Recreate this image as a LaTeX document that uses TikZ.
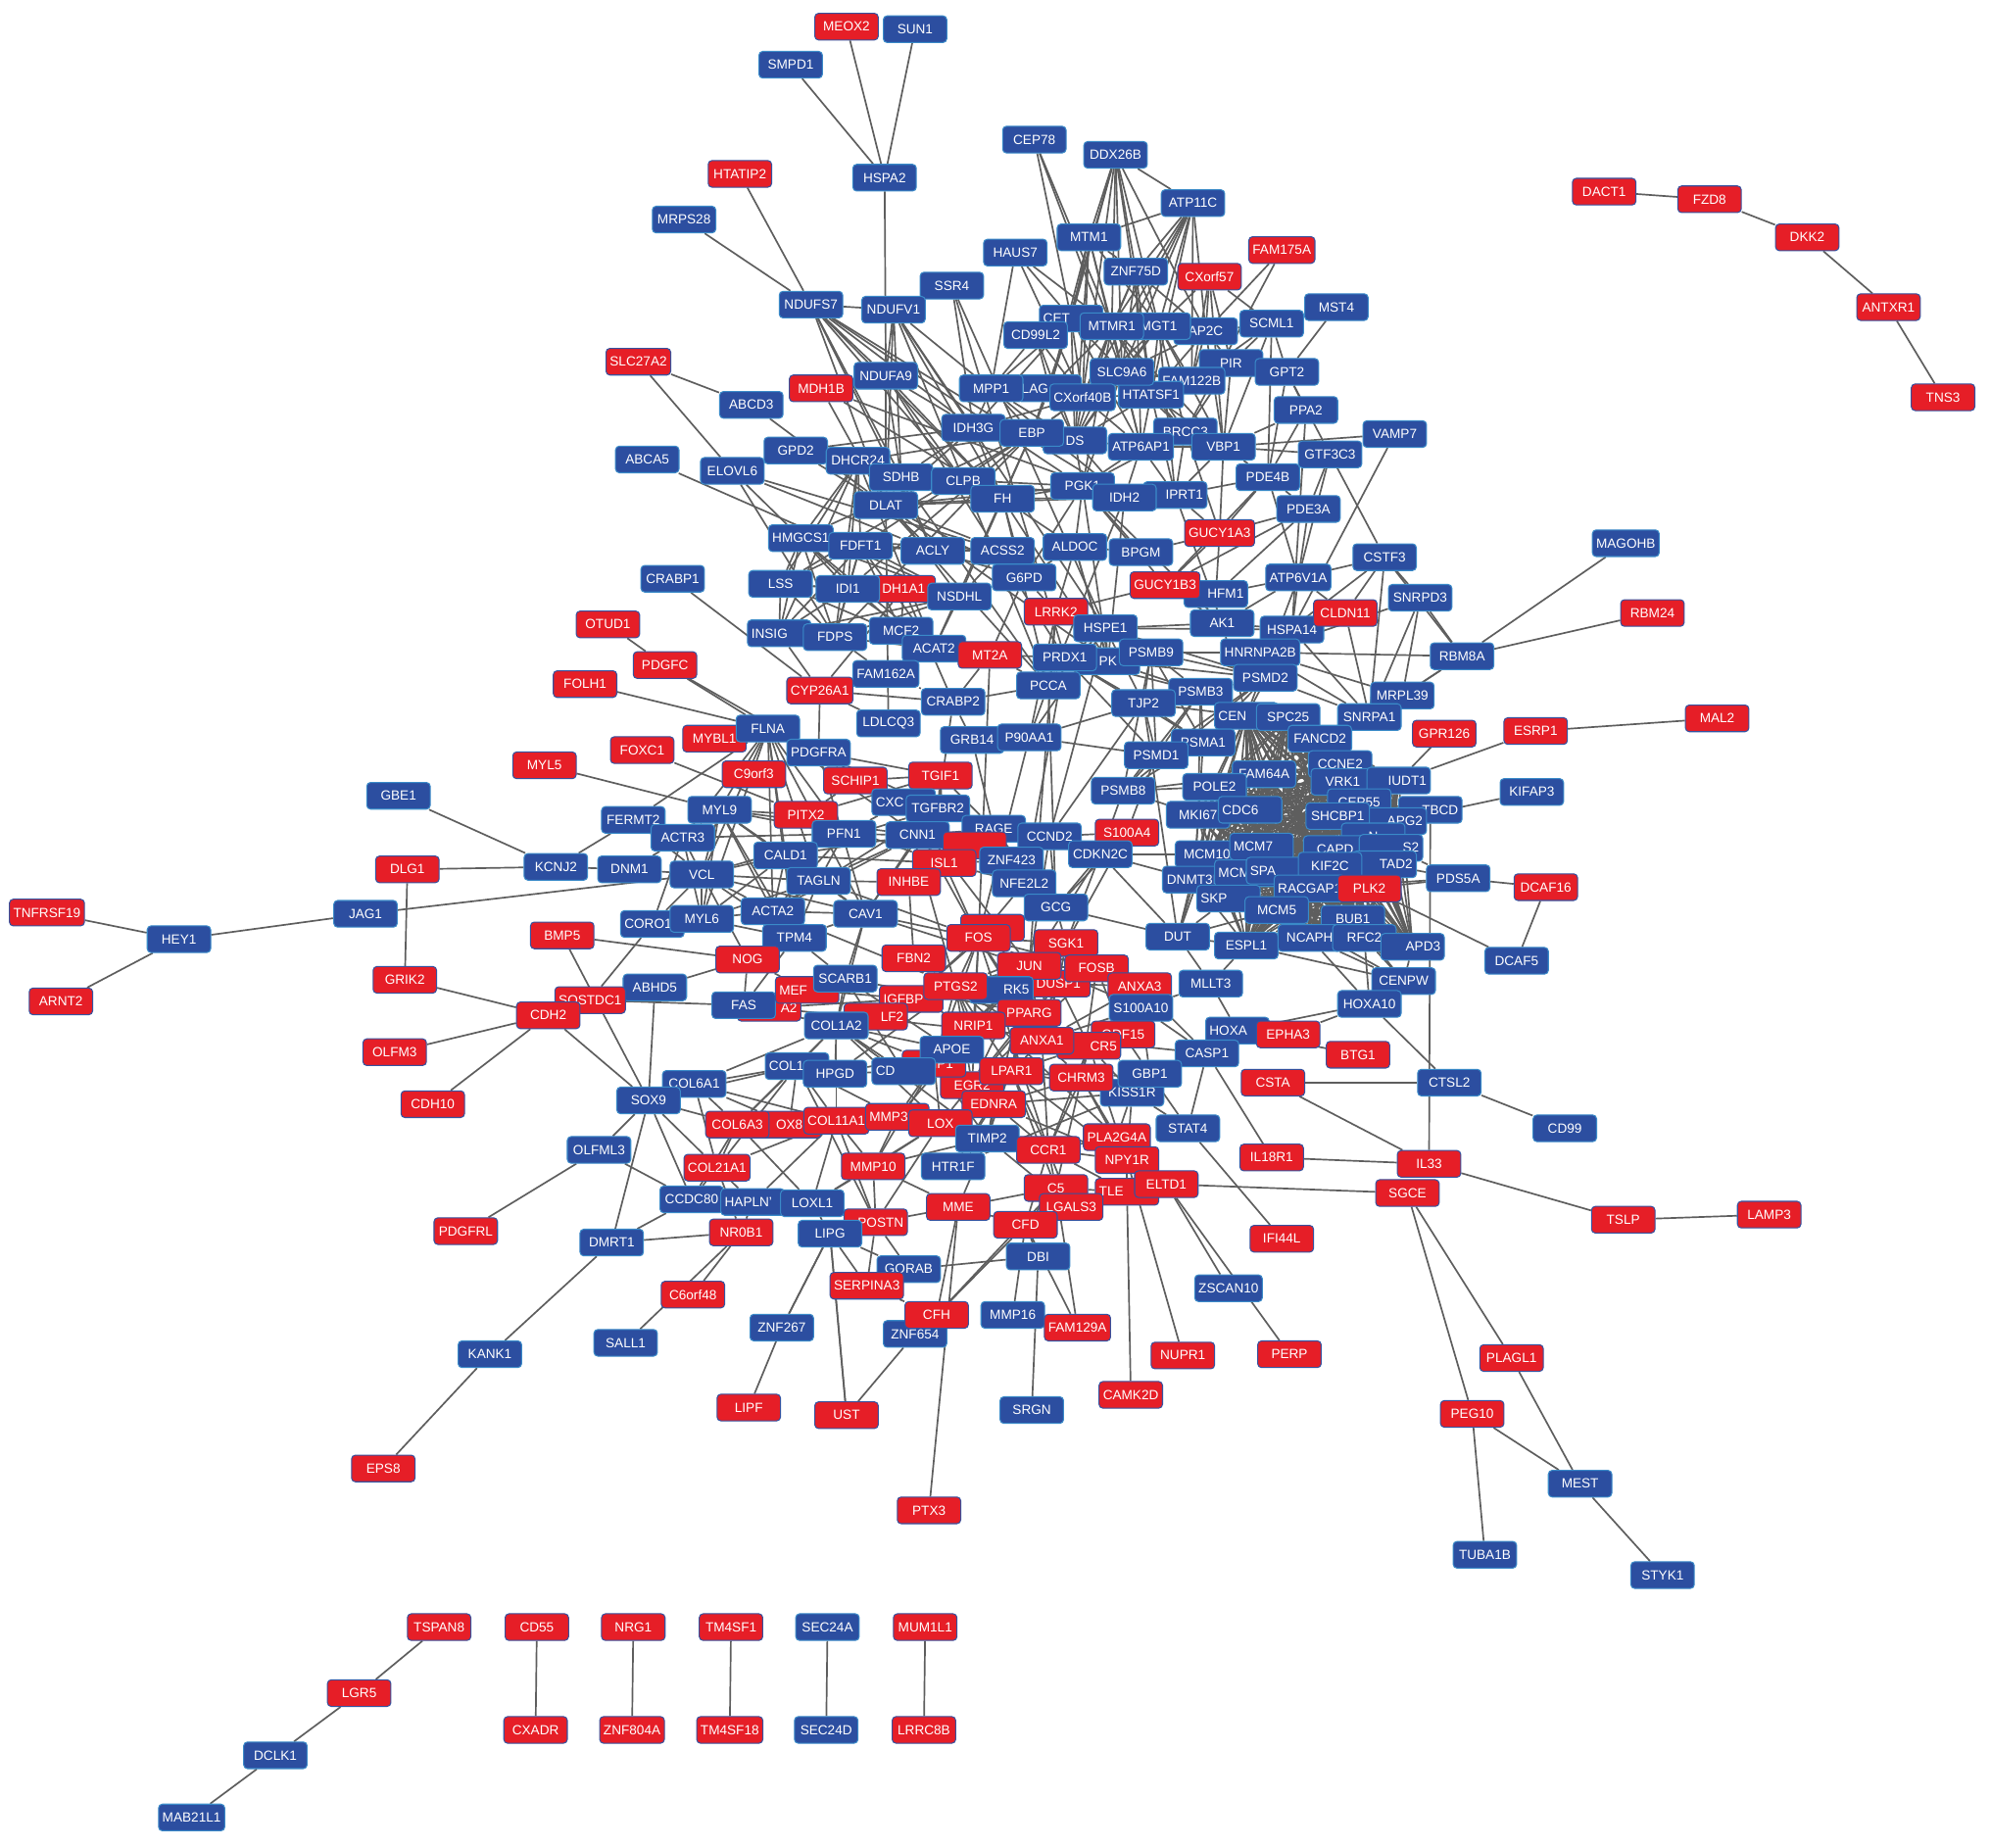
\documentclass[tikz,border=0pt]{standalone}
\usepackage{fontspec}
\setmainfont{Liberation Sans}
\usetikzlibrary{backgrounds}
\definecolor{bfill}{HTML}{2C4EA0}
\definecolor{bline}{HTML}{3A8AC8}
\definecolor{rfill}{HTML}{E61E27}
\definecolor{rline}{HTML}{3553A0}
\definecolor{egray}{HTML}{5E5E5E}
\tikzset{
 nd/.style={rectangle, rounded corners=3pt, minimum width=50pt, minimum height=21pt, inner xsep=3pt, inner ysep=1pt, text=white, font=\fontsize{10.5}{11}\selectfont, line width=0.8pt},
 nb/.style={nd, fill=bfill, draw=bline},
 nr/.style={nd, fill=rfill, draw=rline},
 tl/.style={text width=44pt, align=left},
 tr/.style={text width=44pt, align=right},
 ed/.style={draw=egray, line width=1.3pt},
}
\begin{document}
\begin{tikzpicture}[x=1pt,y=-1pt]
\useasboundingbox (0,0) rectangle (1568,1456);
% ---- top
\node[nr] (MEOX2) at (667,21) {MEOX2};
\node[nb] (SUN1) at (721,23) {SUN1};
\node[nb] (SMPD1) at (623,51) {SMPD1};
\node[nb] (HSPA2) at (697,140) {HSPA2};
\node[nr] (HTATIP2) at (583,137) {HTATIP2};
\node[nb] (MRPS28) at (539,173) {MRPS28};
\node[nb] (CEP78) at (815,110) {CEP78};
\node[nb] (DDX26B) at (879,122) {DDX26B};
\node[nb] (ATP11C) at (940,160) {ATP11C};
\node[nb] (MTM1) at (858,187) {MTM1};
\node[nb] (HAUS7) at (800,199) {HAUS7};
\node[nb] (ZNF75D) at (895,214) {ZNF75D};
\node[nr] (CXorf57) at (953,218) {CXorf57};
\node[nr] (FAM175A) at (1010,197) {FAM175A};
\node[nb] (SSR4) at (750,225) {SSR4};
\node[nb] (NDUFS7) at (639,240) {NDUFS7};
\node[nb] (NDUFV1) at (704,244) {NDUFV1};
\node[nb] (MST4) at (1053,242) {MST4};
\node[nb,tl] (CET) at (844,251) {CET};
\node[nb] (CD99L2) at (816,264) {CD99L2};
\node[nb] (AP2C) at (950,261) {AP2C};
\node[nb] (MGT1) at (913,257) {MGT1};
\node[nb] (MTMR1) at (876,257) {MTMR1};
\node[nb] (SCML1) at (1002,255) {SCML1};
\node[nb] (PIR) at (970,286) {PIR};
\node[nb] (GPT2) at (1014,293) {GPT2};
\node[nb] (FAM122B) at (939,300) {FAM122B};
\node[nb] (HTATSF1) at (907,311) {HTATSF1};
\node[nb] (SLC9A6) at (884,293) {SLC9A6};
\node[nb,tl] (LAG) at (827,306) {LAG};
\node[nb] (MPP1) at (781,306) {MPP1};
\node[nb] (CXorf40B) at (853,313) {CXorf40B};
\node[nr] (SLC27A2) at (503,285) {SLC27A2};
\node[nr] (MDH1B) at (647,306) {MDH1B};
\node[nb] (NDUFA9) at (698,296) {NDUFA9};
\node[nb] (ABCD3) at (592,319) {ABCD3};
\node[nb] (PPA2) at (1029,323) {PPA2};
\node[nb] (VAMP7) at (1099,342) {VAMP7};
\node[nb] (ABCA5) at (510,362) {ABCA5};
\node[nb] (GPD2) at (627,355) {GPD2};
\node[nb] (DHCR24) at (676,363) {DHCR24};
\node[nb] (ELOVL6) at (577,371) {ELOVL6};
\node[nb] (DS) at (847,347) {DS};
\node[nb] (IDH3G) at (767,337) {IDH3G};
\node[nb] (EBP) at (813,341) {EBP};
\node[nb] (BRCC3) at (934,340) {BRCC3};
\node[nb] (ATP6AP1) at (899,352) {ATP6AP1};
\node[nb] (VBP1) at (964,352) {VBP1};
\node[nb] (GTF3C3) at (1048,358) {GTF3C3};
\node[nb] (SDHB) at (710,376) {SDHB};
\node[nb] (CLPB) at (759,379) {CLPB};
\node[nb] (FH) at (790,393) {FH};
\node[nb] (PGK1) at (853,383) {PGK1};
\node[nb,tr] (IPRT1) at (926,390) {IPRT1};
\node[nb] (IDH2) at (886,392) {IDH2};
\node[nb] (PDE4B) at (999,376) {PDE4B};
\node[nb] (DLAT) at (698,398) {DLAT};
\node[nb] (PDE3A) at (1031,401) {PDE3A};
\node[nb] (HMGCS1) at (631,424) {HMGCS1};
\node[nb] (FDFT1) at (678,430) {FDFT1};
\node[nb] (ACLY) at (735,434) {ACLY};
\node[nb] (ACSS2) at (790,434) {ACSS2};
\node[nb] (ALDOC) at (847,431) {ALDOC};
\node[nb] (BPGM) at (899,435) {BPGM};
\node[nr] (GUCY1A3) at (961,420) {GUCY1A3};
\node[nb] (CSTF3) at (1091,439) {CSTF3};
\node[nb] (MAGOHB) at (1281,428) {MAGOHB};
\node[nb] (ATP6V1A) at (1023,455) {ATP6V1A};
\node[nb] (LSS) at (615,460) {LSS};
\node[nr] (DH1A1) at (712,464) {DH1A1};
\node[nb] (IDI1) at (668,464) {IDI1};
\node[nb] (NSDHL) at (756,470) {NSDHL};
\node[nb] (G6PD) at (807,455) {G6PD};
\node[nb,tr] (HFM1) at (958,468) {HFM1};
\node[nr] (GUCY1B3) at (918,461) {GUCY1B3};
\node[nb] (SNRPD3) at (1119,471) {SNRPD3};
\node[nb] (HSPA14) at (1018,496) {HSPA14};
\node[nr] (CLDN11) at (1060,483) {CLDN11};
\node[nr] (RBM24) at (1302,483) {RBM24};
\node[nr] (LRRK2) at (832,482) {LRRK2};
\node[nb] (AK1) at (963,491) {AK1};
\node[nb] (CRABP1) at (530,456) {CRABP1};
\node[nr] (OTUD1) at (479,492) {OTUD1};
\node[nr] (PDGFC) at (524,524) {PDGFC};
\node[nb,tl] (INSIG) at (614,499) {INSIG};
\node[nb] (FDPS) at (658,502) {FDPS};
\node[nb] (MCF2) at (710,497) {MCF2};
\node[nb] (HSPE1) at (871,495) {HSPE1};
\node[nb] (ACAT2) at (736,511) {ACAT2};
\node[nr] (MT2A) at (780,516) {MT2A};
\node[nb] (PK) at (873,521) {PK};
\node[nb] (PRDX1) at (839,518) {PRDX1};
\node[nb] (PSMB9) at (907,514) {PSMB9};
\node[nb] (HNRNPA2B) at (993,514) {HNRNPA2B};
\node[nb] (RBM8A) at (1152,517) {RBM8A};
\node[nr] (FOLH1) at (461,539) {FOLH1};
\node[nb] (FAM162A) at (698,531) {FAM162A};
\node[nr] (CYP26A1) at (646,544) {CYP26A1};
\node[nb] (PCCA) at (826,540) {PCCA};
\node[nb] (PSMD2) at (997,534) {PSMD2};
\node[nb] (PSMB3) at (946,545) {PSMB3};
\node[nb] (TJP2) at (901,554) {TJP2};
\node[nb] (MRPL39) at (1105,548) {MRPL39};
\node[nb] (CRABP2) at (751,553) {CRABP2};
\node[nb] (LDLCQ3) at (700,570) {LDLCQ3};
\node[nb,tl] (CEN) at (982,564) {CEN};
\node[nb] (SPC25) at (1015,565) {SPC25};
\node[nb] (SNRPA1) at (1079,565) {SNRPA1};
\node[nr] (MYBL1) at (563,582) {MYBL1};
\node[nb] (FLNA) at (605,574) {FLNA};
\node[nb] (PDGFRA) at (645,593) {PDGFRA};
\node[nr] (FOXC1) at (506,591) {FOXC1};
\node[nb] (GRB14) at (766,583) {GRB14};
\node[nb] (P90AA1) at (811,581) {P90AA1};
\node[nr] (GPR126) at (1138,578) {GPR126};
\node[nr] (ESRP1) at (1210,576) {ESRP1};
\node[nr] (MAL2) at (1353,566) {MAL2};
\node[nr] (MYL5) at (429,603) {MYL5};
\node[nr] (C9orf3) at (594,610) {C9orf3};
\node[nr] (SCHIP1) at (674,615) {SCHIP1};
\node[nr] (TGIF1) at (741,611) {TGIF1};
\node[nb] (PSMA1) at (948,585) {PSMA1};
\node[nb] (FANCD2) at (1040,582) {FANCD2};
\node[nb] (PSMD1) at (911,595) {PSMD1};
\node[nb] (FAM64A) at (996,610) {FAM64A};
\node[nb] (CCNE2) at (1056,602) {CCNE2};
\node[nb] (VRK1) at (1058,616) {VRK1};
\node[nb,tr] (IUDT1) at (1102,615) {IUDT1};
\node[nb] (GBE1) at (314,627) {GBE1};
\node[nb] (PSMB8) at (885,623) {PSMB8};
\node[nb] (POLE2) at (957,620) {POLE2};
\node[nb,tl] (CXC) at (712,632) {CXC};
\node[nb] (CEP55) at (1071,632) {CEP55};
\node[nb] (KIFAP3) at (1207,624) {KIFAP3};
\node[nb,tr] (TBCD) at (1127,638) {TBCD};
\node[nb] (FERMT2) at (499,646) {FERMT2};
\node[nb] (MYL9) at (567,638) {MYL9};
\node[nr] (PITX2) at (635,642) {PITX2};
\node[nb] (TGFBR2) at (739,637) {TGFBR2};
\node[nb] (MKI67) at (944,642) {MKI67};
\node[nb,tl] (CDC6) at (985,638) {CDC6};
\node[nb,tr] (APG2) at (1099,647) {APG2};
\node[nb] (SHCBP1) at (1054,643) {SHCBP1};
\node[nb] (ACTR3) at (538,660) {ACTR3};
\node[nb] (PFN1) at (665,657) {PFN1};
\node[nb] (CNN1) at (723,658) {CNN1};
\node[nb] (RAGE) at (783,653) {RAGE};
\node[nb] (CCND2) at (827,659) {CCND2};
\node[nr] (S100A4) at (888,656) {S100A4};
\node[nb] (CDKN2C) at (867,673) {CDKN2C};
\node[nb] (MCM10) at (951,673) {MCM10};
\node[nb] (Nn) at (1082,659) {N};
\node[nb] (CAPD) at (1052,669) {CAPD};
\node[nb,tr] (S2) at (1096,668) {S2};
\node[nb,tl] (MCM7) at (994,667) {MCM7};
\node[nr] (DCAF16) at (1218,699) {DCAF16};
\node[nb] (PDS5A) at (1149,692) {PDS5A};
\node[nb] (DCAF5) at (1195,757) {DCAF5};
\node[nr] (DLG1) at (321,685) {DLG1};
\node[nb] (KCNJ2) at (438,683) {KCNJ2};
\node[nb] (DNM1) at (496,685) {DNM1};
\node[nb] (VCL) at (553,689) {VCL};
\node[nb] (CALD1) at (619,674) {CALD1};
\node[nb] (TAGLN) at (645,694) {TAGLN};
\node[nr] (DARP) at (768,666) {};
\node[nr] (ISL1) at (744,680) {ISL1};
\node[nb] (ZNF423) at (797,678) {ZNF423};
\node[nr] (INHBE) at (716,695) {INHBE};
\node[nb] (NFE2L2) at (807,696) {NFE2L2};
\node[nb] (DNMT3B) at (941,693) {DNMT3B};
\node[nb,tl] (MCM) at (982,688) {MCM};
\node[nb,tl] (SPA) at (1007,686) {SPA};
\node[nb,tr] (TAD2) at (1091,681) {TAD2};
\node[nb] (KIF2C) at (1048,682) {KIF2C};
\node[nb] (RACGAP1) at (1032,700) {RACGAP1};
\node[nr] (PLK2) at (1079,700) {PLK2};
\node[nr] (TNFRSF19) at (37,719) {TNFRSF19};
\node[nb] (JAG1) at (288,720) {JAG1};
\node[nb] (HEY1) at (141,740) {HEY1};
\node[nb,tl] (CORO1) at (514,728) {CORO1};
\node[nb] (MYL6) at (553,724) {MYL6};
\node[nb] (ACTA2) at (609,718) {ACTA2};
\node[nb] (CAV1) at (682,720) {CAV1};
\node[nb] (GCG) at (832,715) {GCG};
\node[nb,tl] (SKP) at (968,708) {SKP};
\node[nb] (MCM5) at (1006,717) {MCM5};
\node[nb] (BUB1) at (1066,724) {BUB1};
\node[nr] (BMP5) at (443,737) {BMP5};
\node[nb] (TPM4) at (626,739) {TPM4};
\node[nr] (R2) at (782,731) {};
\node[nr] (FOS) at (771,739) {FOS};
\node[nr] (SGK1) at (840,743) {SGK1};
\node[nb] (DUT) at (928,738) {DUT};
\node[nb] (ESPL1) at (982,745) {ESPL1};
\node[nb] (NCAPH) at (1032,739) {NCAPH};
\node[nb] (RFC2) at (1075,739) {RFC2};
\node[nb,tr] (APD3) at (1113,746) {APD3};
\node[nr] (ARNT2) at (48,789) {ARNT2};
\node[nr] (GRIK2) at (319,772) {GRIK2};
\node[nr] (NOG) at (589,756) {NOG};
\node[nr] (FBN2) at (720,755) {FBN2};
\node[nr] (DUSP1) at (834,775) {DUSP1};
\node[nr] (JUN) at (811,761) {JUN};
\node[nr] (FOSB) at (864,763) {FOSB};
\node[nr] (ANXA3) at (898,777) {ANXA3};
\node[nb] (MLLT3) at (954,775) {MLLT3};
\node[nb] (CENPW) at (1106,773) {CENPW};
\node[nb] (ABHD5) at (516,778) {ABHD5};
\node[nr] (SOSTDC1) at (465,788) {SOSTDC1};
\node[nr,tr] (A2) at (606,794) {A2};
\node[nb] (FAS) at (586,792) {FAS};
\node[nr,tl] (MEF) at (636,780) {MEF};
\node[nb] (SCARB1) at (666,771) {SCARB1};
\node[nb,tr] (RK5) at (789,780) {RK5};
\node[nr,tl] (IGFBP) at (718,787) {IGFBP};
\node[nr] (PTGS2) at (753,777) {PTGS2};
\node[nr] (PPARG) at (811,798) {PPARG};
\node[nb] (S100A10) at (899,794) {S100A10};
\node[nb] (HOXA10) at (1079,791) {HOXA10};
\node[nr] (CDH2) at (432,800) {CDH2};
\node[nr,tr] (LF2) at (690,801) {LF2};
\node[nb] (COL1A2) at (659,808) {COL1A2};
\node[nr] (NRIP1) at (767,808) {NRIP1};
\node[nb,tl] (HOXA) at (975,812) {HOXA};
\node[nr] (EPHA3) at (1015,815) {EPHA3};
\node[nr] (GDF15) at (885,815) {GDF15};
\node[nr] (OLFM3) at (311,829) {OLFM3};
\node[nr] (BTG1) at (1070,831) {BTG1};
\node[nb] (CASP1) at (951,830) {CASP1};
\node[nr,tr] (CR5) at (858,824) {CR5};
\node[nr] (ANXA1) at (821,820) {ANXA1};
\node[nr] (EGR2) at (766,855) {EGR2};
\node[nr] (MMP1) at (736,838) {MMP1};
\node[nb] (APOE) at (750,827) {APOE};
\node[nb,tl] (COL1) at (628,840) {COL1};
\node[nb,tl] (CD) at (712,844) {CD};
\node[nb] (HPGD) at (658,846) {HPGD};
\node[nr] (LPAR1) at (797,844) {LPAR1};
\node[nb] (KISS1R) at (892,861) {KISS1R};
\node[nr] (CHRM3) at (852,849) {CHRM3};
\node[nb] (GBP1) at (906,846) {GBP1};
\node[nr] (CSTA) at (1003,853) {CSTA};
\node[nb] (CTSL2) at (1142,853) {CTSL2};
\node[nr] (CDH10) at (341,870) {CDH10};
\node[nb] (COL6A1) at (547,854) {COL6A1};
\node[nb] (SOX9) at (511,867) {SOX9};
\node[nr] (EDNRA) at (783,870) {EDNRA};
\node[nb] (CD99) at (1233,889) {CD99};
\node[nr] (OX8) at (622,886) {OX8};
\node[nr] (COL6A3) at (581,886) {COL6A3};
\node[nr] (COL11A1) at (659,883) {COL11A1};
\node[nr,tl] (MMP3) at (707,880) {MMP3};
\node[nr] (LOX) at (741,885) {LOX};
\node[nb] (STAT4) at (936,889) {STAT4};
\node[nb] (TIMP2) at (778,897) {TIMP2};
\node[nr] (PLA2G4A) at (880,896) {PLA2G4A};
\node[nr] (CCR1) at (826,906) {CCR1};
\node[nb] (OLFML3) at (472,906) {OLFML3};
\node[nr] (NPY1R) at (888,914) {NPY1R};
\node[nr] (IL18R1) at (1002,912) {IL18R1};
\node[nr] (IL33) at (1126,917) {IL33};
\node[nr] (COL21A1) at (565,920) {COL21A1};
\node[nr] (MMP10) at (688,919) {MMP10};
\node[nb] (HTR1F) at (751,919) {HTR1F};
\node[nr,tl] (TLE) at (888,939) {TLE};
\node[nr] (ELTD1) at (919,933) {ELTD1};
\node[nr] (C5) at (832,936) {C5};
\node[nb] (CCDC80) at (545,945) {CCDC80};
\node[nb,tl] (HAPLN) at (593,947) {HAPLN'};
\node[nb] (LOXL1) at (640,948) {LOXL1};
\node[nr] (SGCE) at (1109,940) {SGCE};
\node[nr] (MME) at (755,951) {MME};
\node[nr] (LGALS3) at (844,951) {LGALS3};
\node[nr,tr] (POSTN) at (690,963) {POSTN};
\node[nr] (CFD) at (808,965) {CFD};
\node[nr] (PDGFRL) at (367,970) {PDGFRL};
\node[nr] (NR0B1) at (584,971) {NR0B1};
\node[nb] (LIPG) at (654,972) {LIPG};
\node[nr] (IFI44L) at (1010,976) {IFI44L};
\node[nr] (TSLP) at (1279,961) {TSLP};
\node[nr] (LAMP3) at (1394,957) {LAMP3};
\node[nb] (DMRT1) at (482,979) {DMRT1};
\node[nb] (DBI) at (818,990) {DBI};
\node[nb] (GORAB) at (716,1000) {GORAB};
\node[nr] (SERPINA3) at (683,1013) {SERPINA3};
\node[nr] (C6orf48) at (546,1020) {C6orf48};
\node[nb] (ZSCAN10) at (968,1015) {ZSCAN10};
\node[nb] (ZNF654) at (721,1051) {ZNF654};
\node[nr] (CFH) at (738,1036) {CFH};
\node[nb] (MMP16) at (798,1036) {MMP16};
\node[nr] (FAM129A) at (849,1046) {FAM129A};
\node[nb] (ZNF267) at (616,1046) {ZNF267};
\node[nb] (SALL1) at (493,1058) {SALL1};
\node[nb] (KANK1) at (386,1067) {KANK1};
\node[nr] (NUPR1) at (932,1068) {NUPR1};
\node[nr] (PERP) at (1016,1067) {PERP};
\node[nr] (PLAGL1) at (1191,1070) {PLAGL1};
\node[nr] (CAMK2D) at (891,1099) {CAMK2D};
\node[nr] (LIPF) at (590,1109) {LIPF};
\node[nb] (SRGN) at (813,1111) {SRGN};
\node[nr] (UST) at (667,1115) {UST};
\node[nr] (PEG10) at (1160,1114) {PEG10};
\node[nr] (EPS8) at (302,1157) {EPS8};
\node[nb] (MEST) at (1245,1169) {MEST};
\node[nr] (PTX3) at (732,1190) {PTX3};
\node[nb] (TUBA1B) at (1170,1225) {TUBA1B};
\node[nb] (STYK1) at (1310,1241) {STYK1};
\node[nr] (DACT1) at (1264,151) {DACT1};
\node[nr] (FZD8) at (1347,157) {FZD8};
\node[nr] (DKK2) at (1424,187) {DKK2};
\node[nr] (ANTXR1) at (1488,242) {ANTXR1};
\node[nr] (TNS3) at (1531,313) {TNS3};
\node[nr] (TSPAN8) at (346,1282) {TSPAN8};
\node[nr] (LGR5) at (283,1334) {LGR5};
\node[nb] (DCLK1) at (217,1383) {DCLK1};
\node[nb] (MAB21L1) at (151,1432) {MAB21L1};
\node[nr] (CD55) at (423,1282) {CD55};
\node[nr] (CXADR) at (422,1363) {CXADR};
\node[nr] (NRG1) at (499,1282) {NRG1};
\node[nr] (ZNF804A) at (498,1363) {ZNF804A};
\node[nr] (TM4SF1) at (576,1282) {TM4SF1};
\node[nr] (TM4SF18) at (575,1363) {TM4SF18};
\node[nb] (SEC24A) at (652,1282) {SEC24A};
\node[nb] (SEC24D) at (651,1363) {SEC24D};
\node[nr] (MUM1L1) at (729,1282) {MUM1L1};
\node[nr] (LRRC8B) at (728,1363) {LRRC8B};

\begin{pgfonlayer}{background}
\fill[white] (0,0) rectangle (1568,1456);
% simple edges
\foreach \a/\b in {DACT1/FZD8, FZD8/DKK2, DKK2/ANTXR1, ANTXR1/TNS3, TSPAN8/LGR5, LGR5/DCLK1, DCLK1/MAB21L1, CD55/CXADR, NRG1/ZNF804A, TM4SF1/TM4SF18, SEC24A/SEC24D, MUM1L1/LRRC8B,
 MEOX2/HSPA2, SUN1/HSPA2, SMPD1/HSPA2, HSPA2/NDUFA9, HTATIP2/NDUFS7, MRPS28/NDUFS7,
 SLC27A2/ABCD3, SLC27A2/ELOVL6, ABCD3/DLAT, MDH1B/DLAT, ABCA5/NSDHL,
 CRABP1/CYP26A1, OTUD1/PDGFC, PDGFC/FLNA, PDGFC/PDGFRA, FOLH1/FLNA, MYL5/MYL9, FOXC1/PITX2, MYBL1/FLNA,
 GBE1/KCNJ2, DLG1/KCNJ2, DLG1/GRIK2, FERMT2/KCNJ2, KCNJ2/DNM1,
 TNFRSF19/HEY1, ARNT2/HEY1, HEY1/JAG1, JAG1/VCL,
 BMP5/NOG, BMP5/SOX9, GRIK2/CDH2, OLFM3/CDH2, CDH10/CDH2, CDH2/SOX9, SOSTDC1/FAS, SOSTDC1/CORO1, ABHD5/NOG,
 PDGFRL/OLFML3, OLFML3/SOX9, OLFML3/CCDC80, KANK1/DMRT1, KANK1/EPS8, DMRT1/SOX9, DMRT1/NR0B1, DMRT1/CCDC80,
 SALL1/NR0B1, C6orf48/NR0B1, ZNF267/LIPG, LIPF/ZNF267, UST/LIPG, PTX3/MME, CAMK2D/TLE, NUPR1/NPY1R, PERP/ELTD1, ZSCAN10/ELTD1, IFI44L/STAT4,
 IL18R1/CASP1, IL18R1/IL33, CSTA/IL33, CSTA/CTSL2, CTSL2/CD99, CTSL2/HOXA10, IL33/TBCD, IL33/TSLP, TSLP/LAMP3,
 SGCE/ELTD1, SGCE/PEG10, SGCE/PLAGL1, PLAGL1/MEST, PEG10/MEST, PEG10/TUBA1B, MEST/STYK1,
 KIFAP3/APG2, PDS5A/DCAF16, DCAF16/DCAF5, PDS5A/PLK2, DCAF5/PLK2, PDS5A/TAD2, MAGOHB/RBM8A, RBM24/RBM8A, MAL2/ESRP1, ESRP1/IUDT1, GPR126/IUDT1,
 VAMP7/VBP1, VAMP7/HSPA14, GTF3C3/CSTF3, PPA2/HSPA14, MST4/GPT2, FAM175A/AP2C, CEP78/MTMR1, BTG1/HOXA, EPHA3/HOXA10,
 ZNF654/UST, FAM129A/CFD, MMP16/CFD, CFH/CFD}
 {\draw[ed] (\a) -- (\b);}
% hub edges
\foreach \a/\L in {
 NDUFS7/{NDUFV1,NDUFA9,SDHB,DLAT,IDH3G,FH,IDH2,PGK1,CLPB,ACLY},
 NDUFV1/{NDUFA9,SDHB,DLAT,FH,IDH3G,PCCA,HSPE1,IDH2},
 NDUFA9/{SDHB,DLAT,FH,IDH3G,PRDX1,CLPB},
 SDHB/{DLAT,FH,IDH3G,IDH2,PGK1,ACLY,PCCA},
 DLAT/{FH,IDH3G,IDH2,PGK1,ACLY,ACSS2,PCCA,G6PD,PK,LDLCQ3},
 FH/{IDH3G,IDH2,PGK1,ALDOC,G6PD,PK,PCCA},
 PGK1/{ALDOC,BPGM,PK,G6PD,IDH2,AK1,GUCY1B3},
 ALDOC/{BPGM,PK,G6PD},
 ACLY/{ACSS2,G6PD,FDFT1,HMGCS1},
 IDH2/{PCCA,PK},
 MDH1B/{FH,IDH2},
 SSR4/{IDH3G,HSPE1,PRDX1},
 HMGCS1/{FDFT1,LSS,IDI1,INSIG,FDPS,DHCR24,NSDHL,ACAT2,EBP,ACSS2,ELOVL6,MCF2},
 FDFT1/{LSS,IDI1,INSIG,FDPS,DHCR24,NSDHL,ACAT2,EBP,MCF2},
 LSS/{IDI1,INSIG,FDPS,DHCR24,NSDHL,EBP,ACAT2},
 IDI1/{INSIG,FDPS,DHCR24,NSDHL,ACAT2,EBP},
 INSIG/{FDPS,DHCR24,CYP26A1,NSDHL},
 FDPS/{DHCR24,NSDHL,ACAT2,EBP,FAM162A},
 DHCR24/{NSDHL,EBP,GPD2,ACAT2,SDHB},
 NSDHL/{EBP,ACAT2,ACSS2,G6PD},
 EBP/{ACAT2,DS,CXorf40B},
 ELOVL6/{ACLY,ACSS2,FDPS},
 GPD2/{DLAT,IDH3G},
 CYP26A1/{CRABP2,DH1A1,FAM162A,LDLCQ3,PDGFRA},
 DH1A1/{CRABP2,MCF2},
 DDX26B/{MTM1,ATP11C,ZNF75D,MTMR1,CET,MGT1,SLC9A6,CXorf40B,LAG,HTATSF1,AP2C},
 ATP11C/{MTM1,ZNF75D,MTMR1,MGT1,SLC9A6,AP2C,FAM122B,DS,CXorf40B,HTATSF1},
 MTM1/{ZNF75D,MTMR1,CET,MGT1,SLC9A6,CXorf40B,LAG,DS},
 CEP78/{CET,SLC9A6},
 HAUS7/{CET,MTMR1,CXorf40B,MPP1},
 ZNF75D/{MTMR1,MGT1,SLC9A6,CXorf40B,HTATSF1,AP2C,ATP6AP1},
 CXorf57/{AP2C,MGT1,FAM122B,SCML1,PIR,VBP1},
 FAM175A/{BRCC3},
 CET/{MTMR1,CD99L2,LAG,SLC9A6,CXorf40B,DS,EBP,ATP6AP1,MPP1,IDH3G},
 CD99L2/{MTMR1,LAG,MPP1,CXorf40B,DS},
 MTMR1/{MGT1,SLC9A6,CXorf40B,HTATSF1,DS,LAG,ATP6AP1,BRCC3,VBP1,PGK1},
 MGT1/{AP2C,SLC9A6,HTATSF1,FAM122B,CXorf40B,DS,BRCC3,VBP1,IPRT1},
 AP2C/{SCML1,PIR,FAM122B,SLC9A6,HTATSF1,VBP1},
 SCML1/{PIR,FAM122B,GPT2,MST4,VBP1,PDE4B},
 PIR/{FAM122B,GPT2,VBP1,BRCC3},
 SLC9A6/{CXorf40B,HTATSF1,FAM122B,DS,ATP6AP1,BRCC3,PGK1},
 CXorf40B/{HTATSF1,DS,ATP6AP1,LAG,MPP1,EBP,IDH3G},
 HTATSF1/{FAM122B,BRCC3,ATP6AP1,VBP1,DS,IPRT1},
 BRCC3/{ATP6AP1,VBP1,IPRT1,PGK1,GUCY1A3},
 ATP6AP1/{VBP1,DS,IPRT1,PGK1,IDH2},
 VBP1/{IPRT1,PPA2,GTF3C3,PDE4B,GUCY1A3},
 LAG/{MPP1,DS,EBP},
 MPP1/{IDH3G,DS,EBP},
 DS/{PGK1,IDH2},
 GPT2/{PPA2,PDE4B,GTF3C3},
 PPA2/{PDE4B},
 PDE4B/{PDE3A,GUCY1A3,GUCY1B3,ATP6V1A},
 PDE3A/{GUCY1A3,GUCY1B3,ATP6V1A,HFM1},
 GTF3C3/{ATP6V1A,PDE3A},
 ATP6V1A/{HSPA14,HFM1,CLDN11,AK1,CEN},
 GUCY1A3/{GUCY1B3,HFM1,BPGM},
 GUCY1B3/{HFM1,AK1,LRRK2},
 IPRT1/{IDH2,PGK1,GUCY1A3,PDE4B,AK1},
 HSPE1/{PRDX1,PK,PSMB9,PCCA,LRRK2,AK1,P90AA1,HSPA14,PSMD2,TJP2,CCND2},
 PRDX1/{PK,PSMB9,PCCA,MT2A,PSMB3,PSMA1,PSMD1,TJP2,NFE2L2},
 PK/{PSMB9,PCCA,PSMB3,PSMD2,ALDOC},
 PSMB9/{PSMB3,PSMD2,PSMA1,PSMD1,PSMB8,HNRNPA2B,TJP2},
 PSMB3/{PSMD2,PSMA1,PSMD1,PSMB8,TJP2,CEN,MKI67},
 PSMD2/{PSMA1,PSMD1,PSMB8,HNRNPA2B,SNRPA1},
 PSMA1/{PSMD1,PSMB8,TJP2,CEN,DNMT3B},
 PSMD1/{PSMB8,TJP2,P90AA1,S100A4},
 HNRNPA2B/{RBM8A,SNRPA1,SNRPD3,HSPA14,CSTF3,MRPL39},
 SNRPA1/{SNRPD3,RBM8A,MRPL39,CSTF3,CLDN11,HSPA14},
 SNRPD3/{RBM8A,CSTF3,MRPL39},
 RBM8A/{MRPL39,CSTF3},
 CSTF3/{CLDN11,ATP6V1A},
 HSPA14/{CLDN11,AK1,CEN},
 AK1/{CEN},
 P90AA1/{GRB14,PCCA,TJP2,LRRK2,FOS},
 CRABP2/{GRB14,PCCA,MT2A,FAM162A,TGFBR2},
 MT2A/{PCCA,ACAT2,G6PD,FOS},
 LRRK2/{G6PD,PCCA,ALDOC,JUN},
 PCCA/{GCG},
 TJP2/{CCND2,DUT,CEN},
 PSMB8/{CDKN2C,POLE2,MKI67,FAM64A},
 GRB14/{RAGE},
 TGIF1/{ISL1,RAGE},
 FLNA/{MYL9,VCL,CALD1,TAGLN,ACTA2,CAV1,PDGFRA,FERMT2,ACTR3,PFN1,CNN1,MYL6,TPM4},
 MYL9/{ACTR3,VCL,CALD1,TAGLN,ACTA2,CNN1,PFN1,MYL6,TPM4,CAV1,PITX2},
 CALD1/{TAGLN,ACTA2,CNN1,VCL,TPM4,CAV1,MYL6,PFN1,TGFBR2,ISL1},
 TAGLN/{ACTA2,CNN1,VCL,TPM4,CAV1,MYL6,INHBE,PFN1,FOS},
 ACTA2/{CNN1,VCL,TPM4,CAV1,MYL6,TGFBR2,PFN1,PTGS2},
 VCL/{ACTR3,CAV1,MYL6,TPM4,PFN1,CORO1,FERMT2,DNM1,NOG},
 ACTR3/{CORO1,PFN1,DNM1,MYL6},
 CAV1/{TPM4,CNN1,FOS,JUN,SCARB1,COL1A2,TGFBR2},
 PFN1/{CNN1,CXC},
 CNN1/{TGFBR2,RAGE,ISL1},
 TGFBR2/{CXC,RAGE,CCND2,TGIF1,PDGFRA},
 PDGFRA/{TGIF1,CXC,SCHIP1,C9orf3,CAV1},
 SCHIP1/{TGIF1,PITX2},
 PITX2/{ISL1,TGIF1},
 TPM4/{NOG,FAS,SCARB1,MYL6},
 CXC/{RAGE,CCND2,FOS,JUN,PTGS2},
 RAGE/{CCND2,ZNF423,NFE2L2,GCG},
 INHBE/{ISL1,FBN2},
 FOS/{JUN,FOSB,SGK1,DUSP1,EGR2,PTGS2,NRIP1,PPARG,ANXA1,S100A10,CCR1,IGFBP,FBN2,R2,GCG,NFE2L2,MMP1,ISL1},
 JUN/{FOSB,SGK1,DUSP1,PTGS2,EGR2,PPARG,ANXA1,NRIP1,RK5,ANXA3,CCND2,CDKN2C,MMP1,MMP3,TIMP2,LPAR1},
 FOSB/{SGK1,DUSP1,EGR2,ANXA3,PPARG,GDF15,S100A10,CHRM3},
 SGK1/{DUSP1,PTGS2,ANXA3,S100A10,GCG,S100A4,CDKN2C},
 DUSP1/{PTGS2,EGR2,PPARG,ANXA1,ANXA3,CR5},
 PTGS2/{EGR2,PPARG,NRIP1,ANXA1,IGFBP,MMP1,EDNRA,LPAR1,PLA2G4A,HPGD,FBN2,RK5},
 PPARG/{NRIP1,ANXA1,LPAR1,APOE,SCARB1,CD,LOX,TIMP2},
 ANXA1/{CR5,LPAR1,CHRM3,CCR1,S100A10,GDF15,ANXA3},
 CR5/{CCR1,CHRM3,C5,GBP1,KISS1R,LPAR1,NPY1R},
 CHRM3/{LPAR1,KISS1R,EDNRA,NPY1R,GBP1,PLA2G4A,CCR1},
 LPAR1/{EDNRA,EGR2,KISS1R,NPY1R,CCR1,HTR1F,C5},
 EDNRA/{EGR2,KISS1R,NPY1R,HTR1F,TIMP2,CCR1},
 KISS1R/{NPY1R,GBP1,PLA2G4A,CASP1,STAT4,HTR1F},
 GBP1/{CASP1,STAT4,S100A10,GDF15},
 CASP1/{STAT4,ANXA3,S100A10,HOXA,FAS},
 CCR1/{C5,CFD,LGALS3,TLE,NPY1R,TIMP2,PLA2G4A},
 C5/{CFD,LGALS3,TLE,MME,CFH},
 CFD/{LGALS3,MME,DBI},
 TLE/{ELTD1,LGALS3,NPY1R},
 TIMP2/{MMP1,MMP3,MMP10,LOX,HTR1F,COL1A2,LGALS3,MME},
 MMP1/{MMP3,MMP10,EGR2,APOE,LOX,COL1A2},
 MMP3/{MMP10,COL11A1,LOX,COL1},
 MMP10/{COL11A1,POSTN,LOXL1,MME,LOX},
 LOX/{COL11A1,COL1A2,LOXL1,POSTN,EDNRA},
 COL1A2/{COL1,HPGD,COL11A1,COL6A3,COL6A1,FAS,SCARB1,LF2,APOE,CD},
 COL1/{COL11A1,COL6A1,COL6A3,COL21A1,HPGD,POSTN,OX8},
 COL6A1/{COL6A3,COL21A1,COL11A1,SOX9,OX8},
 COL6A3/{COL21A1,COL11A1,OX8,CCDC80},
 COL11A1/{COL21A1,OX8,POSTN,LOXL1,HAPLN},
 HPGD/{CD,APOE},
 APOE/{SCARB1,CD},
 SCARB1/{MEF,CD,FAS},
 MEF/{A2,LF2,IGFBP,NOG},
 IGFBP/{LF2,NRIP1,A2,R2},
 FAS/{A2,NOG},
 GDF15/{S100A10,ANXA3},
 S100A10/{ANXA3,MLLT3},
 HOXA/{EPHA3,HOXA10,MLLT3},
 MLLT3/{DUT,ESPL1},
 DUT/{ESPL1,GCG,SKP,CDKN2C,MCM5,MCM10,DNMT3B,POLE2},
 S100A4/{CCND2,CDKN2C,GCG},
 CCND2/{CDKN2C,ZNF423,GCG,NFE2L2},
 CDKN2C/{GCG,MCM10,DNMT3B},
 ZNF423/{NFE2L2,ISL1,GCG},
 NFE2L2/{GCG,ISL1},
 ISL1/{DARP},
 SOX9/{COL6A1,COL21A1,CCDC80,COL6A3,ABHD5,COL1},
 CCDC80/{HAPLN,COL21A1,LOXL1},
 HAPLN/{LOXL1,COL21A1,NR0B1},
 LOXL1/{LIPG,POSTN,COL6A3},
 LIPG/{ZNF267,UST,GORAB,SERPINA3},
 NR0B1/{COL21A1},
 POSTN/{SERPINA3,MME,GORAB},
 SERPINA3/{GORAB,CFH},
 GORAB/{DBI},
 DBI/{SRGN},
 CFH/{MME},
 FAM129A/{C5},
 CENPW/{BUB1,NCAPH,RFC2,APD3,ESPL1,MCM5},
 TBCD/{CEP55,APG2,S2,Nn},
 HOXA10/{NCAPH,RFC2},
 PDS5A/{RACGAP1,S2}}
 {\foreach \b in \L {\draw[ed] (\a) -- (\b);}}
% dense cell-cycle cluster
\foreach \a [count=\i] in {CEN,SPC25,FANCD2,CCNE2,FAM64A,VRK1,POLE2,MKI67,CDC6,SHCBP1,CEP55,MCM10,MCM7,CAPD,DNMT3B,MCM,SPA,KIF2C,RACGAP1,SKP,MCM5,BUB1,NCAPH,RFC2,APD3,TAD2,S2,Nn,APG2,IUDT1,ESPL1,PLK2}
 {\foreach \b [count=\j] in {CEN,SPC25,FANCD2,CCNE2,FAM64A,VRK1,POLE2,MKI67,CDC6,SHCBP1,CEP55,MCM10,MCM7,CAPD,DNMT3B,MCM,SPA,KIF2C,RACGAP1,SKP,MCM5,BUB1,NCAPH,RFC2,APD3,TAD2,S2,Nn,APG2,IUDT1,ESPL1,PLK2}
  {\ifnum\j>\i \draw[ed] (\a) -- (\b);\fi}}
\end{pgfonlayer}
\end{tikzpicture}
\end{document}
